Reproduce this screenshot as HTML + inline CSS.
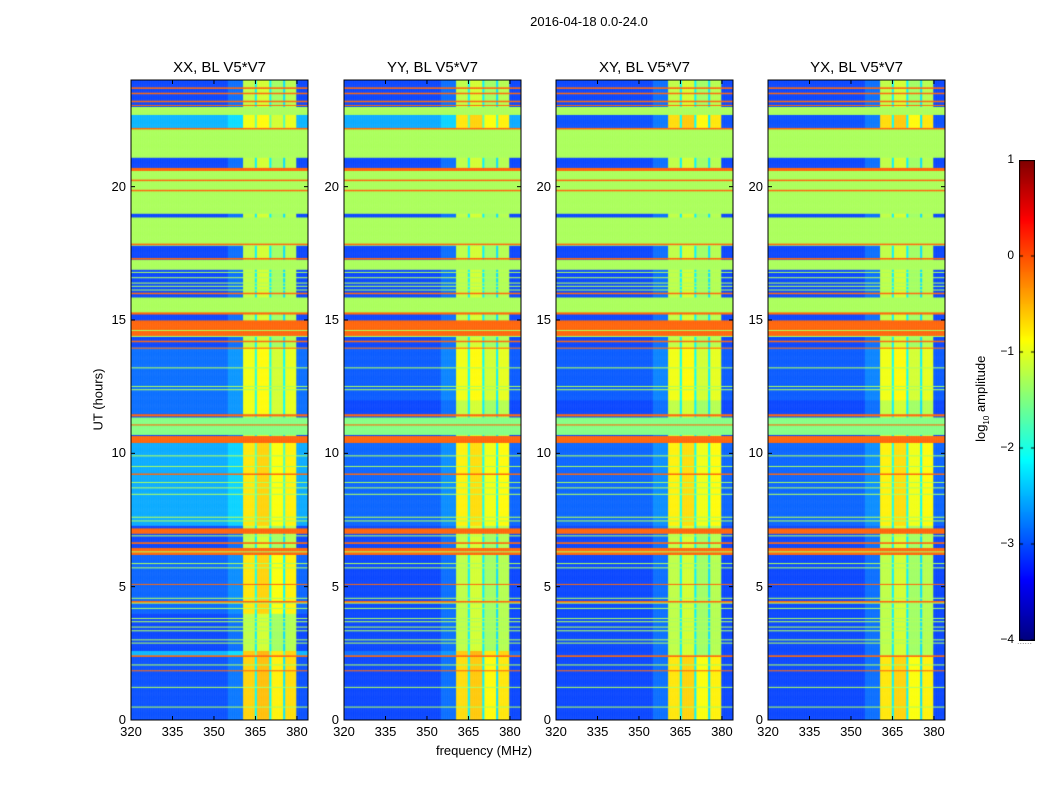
<!DOCTYPE html>
<html><head><meta charset="utf-8">
<style>
body{margin:0;background:#fff;font-family:"Liberation Sans",sans-serif;}
#fig{position:relative;width:1050px;height:800px;overflow:hidden;background:#fff;}
.t{position:absolute;color:#000;white-space:nowrap;}
canvas{position:absolute;}
</style></head>
<body>
<div id="fig">
<div class="t" style="left:489px;top:14px;width:200px;text-align:center;font-size:13px;">2016-04-18 0.0-24.0</div>
<div class="t" style="left:384px;top:743px;width:200px;text-align:center;font-size:13px;">frequency (MHz)</div>
<div class="t" style="left:48px;top:392px;width:100px;text-align:center;font-size:13px;transform:rotate(-90deg);">UT (hours)</div>
<canvas id="cb" width="16" height="481" style="left:1019px;top:160px;"></canvas>
<div class="t" style="left:922px;top:390px;width:120px;text-align:center;font-size:13px;transform:rotate(-90deg);">log<sub style="font-size:8px">10</sub> amplitude</div>
<div class="t" style="left:1017px;top:636px;font-size:9px;color:#888;">......</div>
</div>
<script>
// ---- data ----
const panelTitles = ["XX, BL V5*V7","YY, BL V5*V7","XY, BL V5*V7","YX, BL V5*V7"];
const panelLeft = [131,344,556,768];
const xTicks = [320,335,350,365,380];
const yTicks = [0,5,10,15,20];
const cbTicks = [1,0,-1,-2,-3,-4];
// column bands (MHz start, end, log10 amplitude)
const colBands = [[320,355,-3.05],[355,360.5,-2.85],[360.5,364.8,-1.2],[364.8,365.5,-2.2],[365.5,370,-1.1],[370,370.8,-2.2],[370.8,375,-1.35],[375,375.8,-2.3],[375.8,379.8,-1.25],[379.8,384,-3.05]];
// flagged row bands (UT start, end, value)
const flagRows = [
 [23.68,23.74,-0.1],[23.48,23.53,-0.1],[23.18,23.23,-0.1],[23.04,23.08,-0.1],
 [22.7,23.0,-1.3],[22.15,22.22,-0.1],[21.1,22.15,-1.3],[20.6,20.72,-0.1],[19.0,20.6,-1.3],
 [20.22,20.28,-0.1],[19.84,19.9,-0.1],[17.8,18.85,-1.3],[17.82,17.87,-0.1],[17.28,17.34,-0.1],
 [16.9,17.25,-1.3],[16.78,16.82,-1.3],[16.58,16.62,-1.3],[16.38,16.42,-1.3],[16.26,16.3,-1.3],[16.12,16.16,-1.3],
 [15.97,16.03,-0.1],[15.3,15.85,-1.3],[15.22,15.3,-0.1],[14.4,15.0,-0.1],[14.6,14.64,-1.3],[14.38,14.42,-1.3],
 [14.18,14.23,-0.1],[13.93,13.98,-0.1],[13.2,13.24,-1.3],[12.5,12.54,-1.3],[12.38,12.42,-1.3],
 [11.4,11.47,-0.1],[10.7,11.36,-1.5],[11.05,11.1,-0.1],[10.4,10.65,-0.1],
 [9.9,9.94,-1.3],[9.5,9.54,-1.3],[9.2,9.25,-0.1],[8.9,8.94,-1.3],[8.7,8.74,-1.3],[8.45,8.49,-1.3],
 [7.6,7.64,-1.3],[7.45,7.49,-1.3],[7.0,7.2,-0.1],[6.9,6.94,-1.3],[6.62,6.67,-0.1],[6.2,6.45,-0.1],[6.3,6.33,-1.3],
 [5.85,5.89,-1.3],[5.7,5.74,-1.3],[5.07,5.12,-0.1],[4.55,4.59,-1.3],[4.42,4.47,-0.1],[4.38,4.41,-1.3],[4.17,4.21,-1.3],
 [3.8,3.84,-1.3],[3.68,3.72,-1.3],[3.48,3.52,-1.3],[3.35,3.39,-1.3],[3.0,3.04,-1.3],[2.88,2.92,-1.3],
 [2.39,2.44,-0.1],[2.07,2.11,-1.3],[1.84,1.89,-0.1],[1.22,1.26,-1.3],[0.48,0.52,-1.3]
];
// per-panel data-row offsets (UT start, end, background offset, bright offset)
const rowOffXX = [[7.3,10.4,0.5,0.45],[0,2.4,0.05,0.55],[4.0,6.2,0.15,0.45],[11.5,14,0.2,0.25],[22.2,22.7,0.55,0.25],[2.45,2.6,0.55,0.6]];
const rowOffYY = [[7.3,10.4,0.15,0.4],[0,2.4,0,0.5],[12,14,0.1,0.25],[22.2,22.7,0.5,0.45],[2.45,2.6,0.2,0.6]];
const rowOffXY = [[7.3,10.4,0.15,0.4],[0,2.4,0,0.45],[12,14,0.1,0.25],[22.2,22.7,0.05,0.5]];
const rowOffYX = [[7.3,10.4,0.15,0.4],[0,2.4,0,0.45],[12,14,0.1,0.25],[22.2,22.7,0.05,0.5]];
const rowOffs = [rowOffXX,rowOffYY,rowOffXY,rowOffYX];

// ---- scales ----
const PT=80,PH=640,PW=177,XMIN=320,XMAX=384,YMAX=24;
function xScale(m){return (m-XMIN)/(XMAX-XMIN)*PW;}
function yScale(h){return PH-h/YMAX*PH;}
function jet(v){const t=Math.max(0,Math.min(1,(v+4)/5));
 const c=x=>Math.round(255*Math.max(0,Math.min(1,x)));
 return `rgb(${c(1.5-Math.abs(4*t-3))},${c(1.5-Math.abs(4*t-2))},${c(1.5-Math.abs(4*t-1))})`;}
function colVal(m){for(const b of colBands){if(m>=b[0]&&m<b[1])return b[2];}return -3.05;}

const fig=document.getElementById('fig');
const DM=0.25, DH=0.02;
panelTitles.forEach((title,p)=>{
 const L=panelLeft[p];
 const cv=document.createElement('canvas');
 cv.width=PW;cv.height=PH;cv.style.left=L+'px';cv.style.top=PT+'px';
 
 
 fig.appendChild(cv);
 const ctx=cv.getContext('2d');
 for(let h=0;h<YMAX-1e-9;h+=DH){
  const hc=h+DH/2;
  let flag=null;
  for(const f of flagRows){if(hc>=f[0]&&hc<f[1])flag=f[2];}
  let ob=0,obr=0;
  for(const o of rowOffs[p]){if(hc>=o[0]&&hc<o[1]){ob=o[2];obr=o[3];}}
  const y0=yScale(h+DH),y1=yScale(h);
  for(let m=XMIN;m<XMAX-1e-9;m+=DM){
   let v;
   if(flag!==null)v=flag;else{const cvv=colVal(m+DM/2);v=cvv+(cvv>-1.5?obr:ob);}
   ctx.fillStyle=jet(v);
   const x0=xScale(m),x1=xScale(m+DM);
   ctx.fillRect(x0,y0,x1-x0+0.3,y1-y0+0.3);
  }
 }
 const sv=document.createElementNS('http://www.w3.org/2000/svg','svg');
 sv.setAttribute('width',PW+2);sv.setAttribute('height',PH+2);
 sv.style.position='absolute';sv.style.left=(L-1)+'px';sv.style.top=(PT-1)+'px';
 
 
 let s=`<rect x="1" y="1" width="${PW}" height="${PH}" fill="none" stroke="#000" stroke-width="1"/>`;
 xTicks.forEach(t=>{const x=xScale(t)+1;s+=`<line x1="${x}" x2="${x}" y1="${PH+1}" y2="${PH-3}" stroke="#000"/><line x1="${x}" x2="${x}" y1="1" y2="5" stroke="#000"/>`;});
 yTicks.forEach(t=>{const y=yScale(t)+1;s+=`<line x1="1" x2="5" y1="${y}" y2="${y}" stroke="#000"/><line x1="${PW-3}" x2="${PW+1}" y1="${y}" y2="${y}" stroke="#000"/>`;});
 sv.innerHTML=s;fig.appendChild(sv);
 const tt=document.createElement('div');tt.className='t';
 
 
 tt.style.cssText=`left:${L}px;top:59px;width:${PW}px;text-align:center;font-size:15px;`;
 tt.textContent=title;fig.appendChild(tt);
 xTicks.forEach(t=>{const d=document.createElement('div');d.className='t';
  
  
  d.style.cssText=`left:${L+xScale(t)-20}px;top:724px;width:40px;text-align:center;font-size:13px;`;
  d.textContent=t;fig.appendChild(d);});
 yTicks.forEach(t=>{const d=document.createElement('div');d.className='t';
  
  
  d.style.cssText=`left:${L-45}px;top:${PT+yScale(t)-8}px;width:40px;text-align:right;font-size:13px;`;
  d.textContent=t;fig.appendChild(d);});
});
// colorbar
const cb=document.getElementById('cb');const cctx=cb.getContext('2d');
for(let i=0;i<480;i++){cctx.fillStyle=jet(1-5*(i+0.5)/480);cctx.fillRect(0,i,16,1);}
cctx.strokeStyle='#000';cctx.strokeRect(0.5,0.5,15,480);
cbTicks.forEach(t=>{const y=(1-t)/5*480;
 cctx.beginPath();cctx.moveTo(0,y);cctx.lineTo(4,y);cctx.moveTo(12,y);cctx.lineTo(16,y);cctx.stroke();
 const d=document.createElement('div');d.className='t';
 
 
 d.style.cssText=`left:${975}px;top:${160+y-8}px;width:39px;text-align:right;font-size:12px;`;
 d.textContent=t<0?'\u2212'+(-t):String(t);fig.appendChild(d);});
</script>
</body></html>
